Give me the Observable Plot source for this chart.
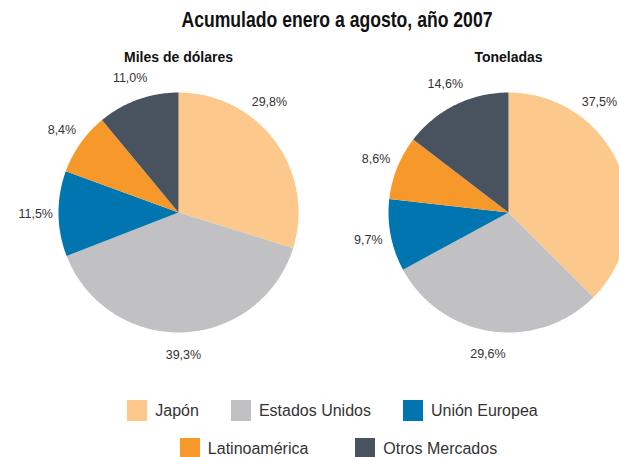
<!DOCTYPE html>
<html>
<head>
<meta charset="utf-8">
<script src="https://cdn.jsdelivr.net/npm/d3@7"></script>
<script src="https://cdn.jsdelivr.net/npm/@observablehq/plot@0.6"></script>
<style>
  html, body { margin: 0; padding: 0; background: #fff; overflow: hidden; }
  #wrap { position: relative; width: 673px; }
  #title { height: 36px; line-height: 36px; text-align: center; font-family: "Liberation Sans", Arial, sans-serif; font-weight: bold; font-size: 21.5px; color: #111; }
  #title span { display: inline-block; position: relative; top: 2px; transform-origin: center; }
  #chart svg { display: block; }
  .legend-row { display: flex; justify-content: center; align-items: center; font-family: "Liberation Sans", Arial, sans-serif; font-size: 16px; color: #333; }
  .item { display: flex; align-items: center; }
  .sw { width: 20px; height: 21px; margin-right: 8px; }
</style>
</head>
<body>
<div id="wrap">
  <div id="title"><span id="titletext">Acumulado enero a agosto, año 2007</span></div>
  <div id="chart"></div>
  <div id="legend"></div>
</div>
<script>
const categories = ["Japón", "Estados Unidos", "Unión Europea", "Latinoamérica", "Otros Mercados"];
const colors = ["#fdc88c", "#c1c1c3", "#0075b0", "#f6992a", "#48535f"];
const measures = ["Miles de dólares", "Toneladas"];
const dolares = [29.8, 39.3, 11.5, 8.4, 11.0];
const toneladas = [37.5, 29.6, 9.7, 8.6, 14.6];

const seriesByMeasure = {"Miles de dólares": dolares, "Toneladas": toneladas};

// condensed title: squeeze the bold sans to a narrow width
const tt = document.getElementById("titletext");
const tw = tt.getBoundingClientRect().width;
tt.style.transform = "scaleX(" + (311 / tw) + ")";

const pie = d3.pie().sort(null).value(d => d.value);
const points = [];
const labels = [];
const labelR = 1.19;
const maxFirstLabelAngle = 0.69;
for (const m of measures) {
  const rows = categories.map((c, i) => ({measure: m, category: c, value: seriesByMeasure[m][i]}));
  const arcs = pie(rows);
  arcs.forEach((a, i) => {
    const key = m + "|" + a.data.category;
    points.push({key, measure: m, category: a.data.category, x: 0, y: 0});
    const n = Math.max(2, Math.ceil((a.endAngle - a.startAngle) / (Math.PI / 180)));
    for (let k = 0; k <= n; k++) {
      const t = a.startAngle + (a.endAngle - a.startAngle) * k / n;
      points.push({key, measure: m, category: a.data.category, x: Math.sin(t), y: Math.cos(t)});
    }
    let mid = (a.startAngle + a.endAngle) / 2;
    if (i === 0) mid = Math.min(mid, maxFirstLabelAngle);
    labels.push({
      measure: m,
      x: labelR * Math.sin(mid),
      y: labelR * Math.cos(mid),
      text: a.data.value.toFixed(1).replace(".", ",") + "%"
    });
  });
}

const chart = Plot.plot({
  width: 673,
  height: 352,
  marginLeft: 13,
  marginRight: 0,
  marginTop: 40,
  marginBottom: 40,
  style: {background: "#fff", overflow: "visible"},
  x: {domain: [-1.375, 1.375], axis: null},
  y: {domain: [-1.1333, 1.1333], axis: null},
  fx: {domain: measures, padding: 0, label: null},
  color: {domain: categories, range: colors},
  marks: [
    Plot.line(points, {fx: "measure", x: "x", y: "y", z: "key", fill: "category", stroke: "none"}),
    Plot.text(labels, {fx: "measure", x: "x", y: "y", text: "text", fontSize: 12.5, fill: "#333", fontFamily: "Liberation Sans, Arial, sans-serif"}),
    Plot.axisFx({anchor: "top", tickSize: 0, tickPadding: 15, fontSize: 14, fontWeight: "bold", label: null, fontFamily: "Liberation Sans, Arial, sans-serif", fill: "#111"})
  ]
});
document.getElementById("chart").appendChild(chart);

// Legend
const legendRows = [[0, 1, 2], [3, 4]];
const rowGaps = [32, 47];
const rowShift = [-4, 2];
const legend = document.getElementById("legend");
legendRows.forEach((row, r) => {
  const div = document.createElement("div");
  div.className = "legend-row";
  div.style.gap = rowGaps[r] + "px";
  div.style.marginTop = (r === 0 ? 12 : 17) + "px";
  div.style.transform = "translateX(" + rowShift[r] + "px)";
  row.forEach(i => {
    const it = document.createElement("div");
    it.className = "item";
    const sw = document.createElement("div");
    sw.className = "sw";
    sw.style.background = colors[i];
    const tx = document.createElement("span");
    tx.textContent = categories[i];
    it.appendChild(sw);
    it.appendChild(tx);
    div.appendChild(it);
  });
  legend.appendChild(div);
});
</script>
</body>
</html>
